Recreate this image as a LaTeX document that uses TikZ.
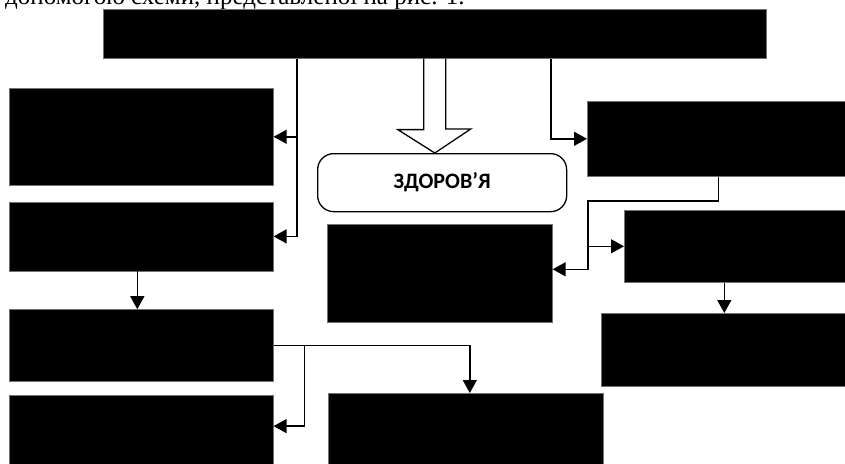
\documentclass[tikz,border=0pt]{standalone}
\usepackage{fontspec}
\setmainfont{Liberation Serif}
\newfontfamily\calibri{Carlito}
\usepackage{tikz}
\usetikzlibrary{positioning, arrows.meta}

\tikzset{
  box/.style={rectangle, fill=black, draw=black!55, line width=0.6pt, inner sep=0pt},
  health/.style={rectangle, draw=black, line width=1.3pt, rounded corners=16pt, inner sep=0pt, font=\calibri\bfseries\fontsize{22}{26}\selectfont},
  arr/.style={line width=1.4pt, -{Triangle[length=13pt, width=14pt]}}
}

\begin{document}
\begin{tikzpicture}[x=1pt, y=-1pt]
\useasboundingbox (0,0) rectangle (845,463);
%
% TEXT ABOVE
\node [anchor=base west, inner sep=0pt, font=\fontsize{25}{30}\selectfont] (caption) at (5,5) {допомогою схеми, представленої на рис. 1.};

% TOP
\node [box, minimum width=663pt, minimum height=49pt, anchor=north west] (top) at (103,9) {};

% LEFT COLUMN
\node [box, minimum width=264pt, minimum height=97pt, anchor=north west] (lb1) at (9,88) {};
\node [box, minimum width=264pt, minimum height=69pt, below=16pt of lb1] (lb2) {};
\node [box, minimum width=264pt, minimum height=72pt, below=38pt of lb2] (lb3) {};
\node [box, minimum width=264pt, minimum height=72pt, below=13pt of lb3] (lb4) {};

% MIDDLE
\node [health, minimum width=249pt, minimum height=58pt, anchor=north west] (health) at (317,153) {ЗДОРОВ’Я};
\node [box, minimum width=225pt, minimum height=98pt, anchor=north west] (mid) at (327,224) {};
\node [box, minimum width=275pt, minimum height=72pt, anchor=north west] (bm) at (328,393) {};

% RIGHT COLUMN
\node [box, minimum width=262pt, minimum height=75pt, anchor=north west] (rb1) at (587,101) {};
\node [box, minimum width=226pt, minimum height=72pt, anchor=north west] (rb2) at (624,210) {};
\node [box, minimum width=249pt, minimum height=73pt, anchor=north west] (rb3) at (601,313) {};

% block arrow
\draw [line width=1.3pt, line join=miter] ([xshift=-11pt]top.south) -- ++(0,71) -- ++(-26,0) -- (top.south |- health.north) -- ++(36,-24) -- ++(-25,0) -- ([xshift=11pt]top.south);

\coordinate (jr) at (588,201);

\draw [arr] ([xshift=-138pt]top.south) |- (lb1.east);
\draw [arr] ([xshift=-138pt]top.south) |- (lb2.east);
\draw [arr] ([xshift=116pt]top.south) |- (rb1.west);
\draw [arr] (rb1.south) |- (jr) |- ([yshift=4pt]mid.east);
\draw [arr] (jr) |- (rb2.west);
\draw [arr] ([xshift=-13pt]rb2.south) -- ([xshift=-13pt]rb2.south |- rb3.north);
\draw [arr] ([xshift=-4pt]lb2.south) -- ([xshift=-4pt]lb3.north);
\draw [arr] (lb3.east) -| ([xshift=4pt]bm.north);
\draw [arr] ([xshift=31pt]lb3.east) |- ([yshift=5pt]lb4.east);
\end{tikzpicture}
\end{document}
